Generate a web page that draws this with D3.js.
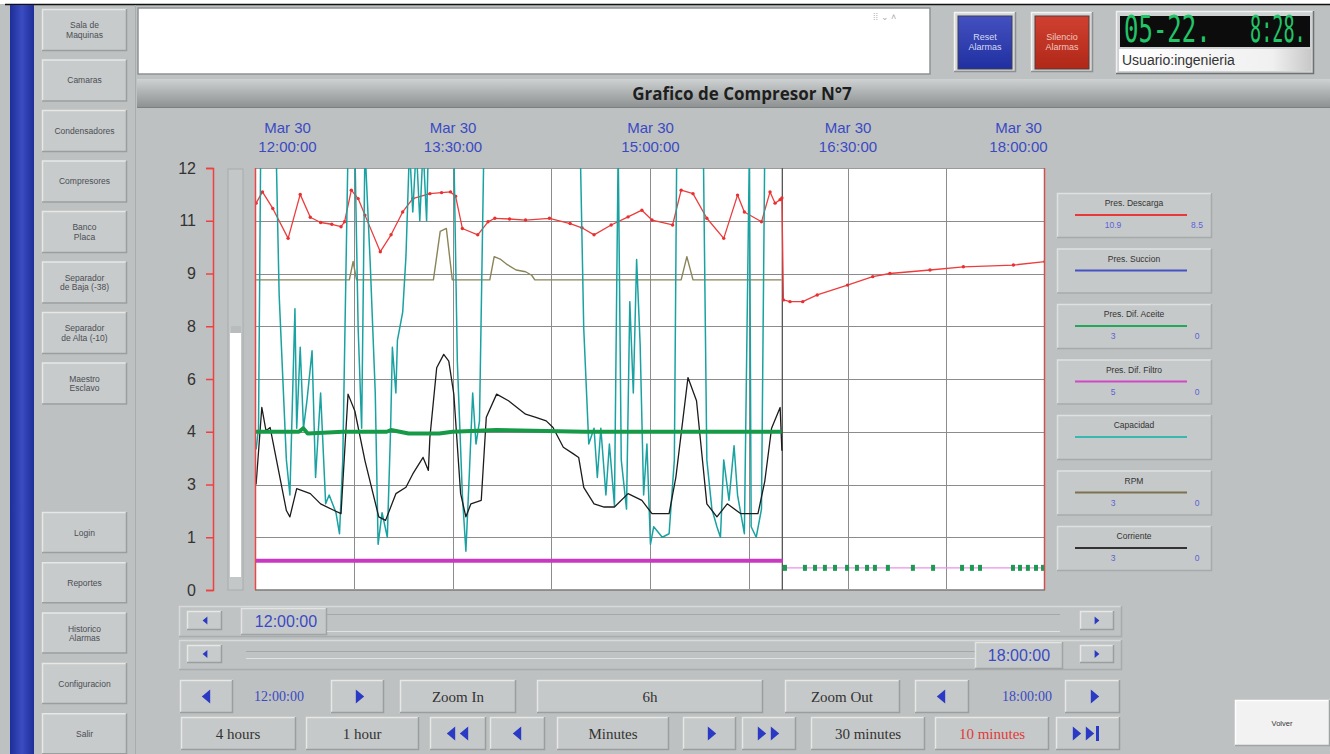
<!DOCTYPE html>
<html>
<head>
<meta charset="utf-8">
<script src="https://cdn.jsdelivr.net/npm/d3@7/dist/d3.min.js"></script>
<style>
  body { margin: 0; background: #bec1c1; overflow: hidden; }
  svg { display: block; font-family: "Liberation Sans", Arial, sans-serif; }
</style>
</head>
<body>
<svg id="chart" width="1330" height="754"></svg>
<script>
// --- data (minutes after 12:00, value on the 0-12 scale) ---
const timeTicks = ['12:00:00', '13:30:00', '15:00:00', '16:30:00', '18:00:00']
const yTickValues = [0, 1.5, 3, 4.5, 6, 7.5, 9, 10.5, 12]
const yTickLabels = ['0', '1', '3', '4', '6', '8', '9', '11', '12']

const descarga = [
  [0.5, 11.0], [3.4, 11.32], [8.1, 10.85], [15.1, 10.0], [20.6, 11.25], [25.2, 10.6], [29.9, 10.45],
  [35, 10.4], [39.2, 10.33], [40.8, 10.47], [43.9, 11.37], [47.0, 11.13], [50.1, 10.66], [57.1, 9.62],
  [62, 10.1], [67.3, 10.75], [71.9, 11.13], [79.7, 11.27], [85, 11.3], [89.1, 11.32], [91.4, 11.2],
  [94.5, 10.28], [101.5, 10.1], [106.2, 10.47], [109.3, 10.57], [116, 10.55], [123.3, 10.52],
  [134.2, 10.57], [143.6, 10.42], [149, 10.3], [154.5, 10.1], [162.3, 10.38], [170.0, 10.61],
  [176.3, 10.8], [180.9, 10.52], [190.3, 10.38], [194.2, 11.37], [199.6, 11.27], [205.9, 10.57],
  [213.6, 10.0], [219.9, 11.23], [223.0, 10.75], [230.8, 10.47], [234.7, 11.32], [237.0, 11.0],
  [239.3, 11.1], [240.1, 11.15], [240.8, 8.25], [243.8, 8.2], [249.6, 8.2], [256.2, 8.39],
  [270, 8.67], [281.5, 8.91], [289.3, 9.0], [307.6, 9.1], [322.8, 9.19], [345.6, 9.24], [360, 9.34]
]

const rpm = [
  [0.5, 8.82], [43.0, 8.82], [44.7, 9.34], [46.3, 8.82], [81.3, 8.82], [84.4, 10.2], [87.2, 10.28],
  [89.9, 8.82], [107.0, 8.82], [109.0, 9.48], [112, 9.4], [115, 9.25], [119, 9.1], [123.3, 9.05],
  [126.1, 8.95], [127.5, 8.82], [194.2, 8.82], [196.8, 9.48], [199.6, 8.82], [240, 8.82]
]

const corriente = [
  [0.5, 3.0], [3.1, 5.19], [5.0, 4.53], [6.9, 4.62], [14.3, 2.26], [15.9, 2.08], [19.0, 2.88],
  [25.2, 2.74], [29.9, 2.45], [36.1, 2.26], [39.2, 2.17], [42.4, 5.57], [45.5, 5.09], [50.1, 3.68],
  [56.4, 2.08], [59.5, 1.98], [64.2, 2.74], [68.8, 2.92], [71.9, 3.3], [76.6, 3.77], [79.0, 3.4],
  [79.7, 4.34], [82.8, 6.32], [86.0, 6.7], [88.3, 6.51], [90.6, 5.57], [93.7, 2.74], [96.1, 2.08],
  [98.4, 2.45], [103.1, 2.55], [105.4, 4.91], [110.1, 5.57], [115.5, 5.38], [123.3, 5.0],
  [128.0, 4.91], [132.7, 4.81], [135.8, 4.62], [140.5, 4.06], [145.1, 3.87], [147.5, 3.77],
  [149.8, 2.92], [154.5, 2.45], [159.1, 2.36], [163.8, 2.36], [170.0, 2.74], [176.3, 2.55],
  [180.9, 2.17], [188.7, 2.17], [191.8, 3.21], [197.3, 6.04], [201.2, 5.38], [205.9, 2.45],
  [210.5, 2.08], [215.2, 2.45], [221.4, 2.17], [229.2, 2.17], [232.3, 3.09], [235.4, 4.6],
  [239.3, 5.19], [240.1, 3.96]
]

const aceite = [
  [0, 4.5], [20, 4.5], [22, 4.6], [24, 4.45], [40, 4.5], [60, 4.5], [62, 4.55], [70, 4.45],
  [84, 4.45], [90, 4.5], [110, 4.55], [150, 4.5], [200, 4.5], [240, 4.5]
]
const aceiteMarks = [241.5, 250.6, 255.2, 259.7, 264.3, 269.8, 274.3, 278.9, 282.5, 288.4, 299.8,
  309.0, 322.2, 326.7, 330.4, 345.4, 348.6, 352.2, 355.9, 359.1]

const filtro = [[0, 0.83], [240.5, 0.83]]
const filtroTail = [[240.5, 0.63], [360, 0.63]]

const capacidad = [
  [0.5, 4.0], [1.6, 4.6], [2.6, 12.6], [9.6, 12.6], [11.0, 8.4], [14.3, 3.7], [15.9, 2.7], [18.2, 8.0],
  [19.0, 4.6], [20.6, 6.9], [22.1, 4.6], [23.7, 5.4], [26.0, 6.8], [27.6, 3.2], [29.9, 5.6],
  [32.2, 2.45], [33.8, 2.7], [36.9, 2.2], [38.5, 1.6], [40.0, 3.7], [42.4, 12.6], [45.5, 12.6],
  [47.0, 7.45], [48.6, 4.6], [50.1, 12.6], [52.5, 9.3], [54.8, 5.6], [56.1, 1.3], [57.9, 2.2],
  [60.3, 1.5], [61.8, 4.6], [62.6, 6.9], [64.2, 5.6], [64.9, 7.1], [67.3, 7.9], [68.8, 9.5],
  [70.4, 12.6], [71.9, 10.75], [73.5, 12.6], [75.1, 10.5], [76.6, 12.6], [78.2, 10.5], [79.0, 12.6],
  [90.6, 12.6], [92.2, 6.5], [94.5, 2.7], [96.1, 1.1], [97.6, 3.2], [99.2, 5.6], [100.7, 4.15],
  [102.3, 4.8], [104.3, 12.6], [148.2, 12.6], [149.8, 7.45], [152.1, 4.15], [154.5, 4.6],
  [156.0, 3.2], [157.6, 4.6], [159.9, 2.7], [161.5, 4.15], [163.8, 2.4], [165.5, 12.6],
  [166.9, 3.7], [169.3, 2.3], [170.8, 8.2], [172.4, 5.6], [173.9, 9.4], [175.5, 7.0], [177.1, 2.7],
  [178.6, 4.15], [180.2, 1.3], [181.7, 1.8], [185.6, 1.5], [188.7, 1.6], [191.1, 3.7], [192.2, 12.6],
  [204.3, 12.6], [205.9, 3.7], [208.2, 2.3], [210.5, 1.8], [212.1, 1.5], [213.6, 3.7], [216.0, 2.55],
  [218.3, 4.1], [219.9, 2.7], [223.0, 1.6], [225.3, 12.6], [226.1, 1.8], [228.4, 1.5], [230.8, 2.3],
  [232.3, 12.6], [234.0, 12.6]
]

const legendNames = ['Pres. Descarga', 'Pres. Succion', 'Pres. Dif. Aceite', 'Pres. Dif. Filtro',
  'Capacidad', 'RPM', 'Corriente']
const legendMax = ['10.9', '', '3', '5', '', '3', '3']
const legendMin = ['8.5', '', '0', '0', '', '0', '0']
const legendColors = ['#e8383a', '#4452c4', '#22a858', '#d048c8', '#38b8b0', '#7a7250', '#333333']

const menuTop = ['Sala de\nMaquinas', 'Camaras', 'Condensadores', 'Compresores', 'Banco\nPlaca',
  'Separador\nde Baja (-38)', 'Separador\nde Alta (-10)', 'Maestro\nEsclavo']
const menuBottom = ['Login', 'Reportes', 'Historico\nAlarmas', 'Configuracion', 'Salir']

// --- setup ---
const svg = d3.select('#chart')
const base = d3.timeParse('%b %d %Y %H:%M:%S')('Mar 30 2015 12:00:00')
const toDate = m => new Date(+base + m * 60000)
const tickDates = timeTicks.map(t => d3.timeParse('%b %d %Y %H:%M:%S')('Mar 30 2015 ' + t))

const plot = { left: 255, right: 1045, top: 168, bottom: 590 }
const x = d3.scaleTime().domain([tickDates[0], tickDates[tickDates.length - 1]]).range([plot.left, plot.right])
const y = d3.scaleLinear().domain([0, 12]).range([plot.bottom, plot.top])

const grad = svg.append('defs')
function linGrad(id, stops, vertical) {
  const g = grad.append('linearGradient').attr('id', id)
    .attr('x1', 0).attr('y1', 0).attr('x2', vertical ? 0 : 1).attr('y2', vertical ? 1 : 0)
  stops.forEach(s => g.append('stop').attr('offset', s[0]).attr('stop-color', s[1]))
}
linGrad('sideBlue', [[0, '#1e2e98'], [0.5, '#3a4cc0'], [1, '#1e2e98']], false)
linGrad('titleBar', [[0, '#cfd2d2'], [0.45, '#b0b4b4'], [1, '#8e9292']], true)
linGrad('blueBtn', [[0, '#4450c0'], [1, '#2030a0']], true)
linGrad('redBtn', [[0, '#d04030'], [1, '#b02818']], true)
linGrad('userField', [[0, '#ffffff'], [0.8, '#f0f0f0'], [1, '#c8c8c8']], false)
grad.append('clipPath').attr('id', 'plotClip').append('rect')
  .attr('x', plot.left).attr('y', plot.top).attr('width', plot.right - plot.left).attr('height', plot.bottom - plot.top)

function bevel(g, bx, by, w, h, fill, light, dark) {
  g.append('rect').attr('x', bx).attr('y', by).attr('width', w).attr('height', h).attr('fill', fill)
  g.append('path').attr('d', `M${bx + 0.5},${by + h}V${by + 0.5}H${bx + w}`)
    .attr('stroke', light || '#e6e8e8').attr('stroke-width', 1.5).attr('fill', 'none')
  g.append('path').attr('d', `M${bx + w - 0.5},${by}V${by + h - 0.5}H${bx}`)
    .attr('stroke', dark || '#9a9e9e').attr('stroke-width', 1.5).attr('fill', 'none')
}

function label(g, cx, cy, text, size, color, family) {
  const lines = text.split('\n')
  const t = g.append('text').attr('x', cx).attr('y', cy).attr('text-anchor', 'middle')
    .attr('font-size', size).attr('fill', color).attr('font-family', family || null)
  lines.forEach((l, i) => t.append('tspan').attr('x', cx)
    .attr('dy', i === 0 ? (0.35 - (lines.length - 1) * 0.55) + 'em' : '1.1em').text(l))
  return t
}

function tri(g, cx, cy, s, dir, color) {
  const d = dir > 0
    ? `M${cx - s * 0.6},${cy - s}L${cx + s * 0.6},${cy}L${cx - s * 0.6},${cy + s}Z`
    : `M${cx + s * 0.6},${cy - s}L${cx - s * 0.6},${cy}L${cx + s * 0.6},${cy + s}Z`
  g.append('path').attr('d', d).attr('fill', color || '#2a3ac4')
}

// --- page frame ---
svg.append('rect').attr('width', 1330).attr('height', 754).attr('fill', '#bec1c1')
svg.append('rect').attr('width', 1330).attr('height', 4).attr('fill', '#ffffff')
svg.append('line').attr('x1', 5).attr('x2', 1330).attr('y1', 4.5).attr('y2', 4.5).attr('stroke', '#111').attr('stroke-width', 1.5)
svg.append('rect').attr('x', 10).attr('y', 5).attr('width', 24).attr('height', 749).attr('fill', 'url(#sideBlue)')

// --- side menu ---
const side = svg.append('g')
menuTop.forEach((m, i) => {
  const by = 9 + i * 50.5
  bevel(side, 42, by, 85, 42, '#c8cbcb')
  label(side, 84.5, by + 21, m, 8.5, '#4a4e55')
})
menuBottom.forEach((m, i) => {
  const by = 512 + i * 50.3
  bevel(side, 42, by, 85, 41, '#c8cbcb')
  label(side, 84.5, by + 21, m, 8.5, '#4a4e55')
})
svg.append('line').attr('x1', 135.5).attr('x2', 135.5).attr('y1', 5).attr('y2', 754).attr('stroke', '#a9adad')

// --- header ---
const head = svg.append('g')
head.append('rect').attr('x', 138).attr('y', 8).attr('width', 792).attr('height', 66).attr('fill', '#fff')
  .attr('stroke', '#8e9292').attr('stroke-width', 1.5)
head.append('text').attr('x', 873).attr('y', 20).attr('font-size', 9).attr('fill', '#a8acac').text('⁞⁞ ⌄ ˄')
bevel(head, 954, 12, 62, 60, '#d4d6d6', '#f4f4f4', '#8c9090')
head.append('rect').attr('x', 958).attr('y', 16).attr('width', 54).attr('height', 53).attr('fill', 'url(#blueBtn)')
  .attr('stroke', '#3c3f55')
label(head, 985, 42, 'Reset\nAlarmas', 9, '#d8dcf4')
bevel(head, 1031, 12, 62, 60, '#d4d6d6', '#f4f4f4', '#8c9090')
head.append('rect').attr('x', 1035).attr('y', 16).attr('width', 54).attr('height', 53).attr('fill', 'url(#redBtn)')
  .attr('stroke', '#553a3a')
label(head, 1062, 42, 'Silencio\nAlarmas', 9, '#f0c8c0')
bevel(head, 1116, 11, 198, 63, '#cfd2d2', '#f0f0f0', '#6e7272')
head.append('rect').attr('x', 1120).attr('y', 16).attr('width', 190).attr('height', 31).attr('fill', '#0c0c0c')
// LED digits: narrow mono text stretched vertically
head.append('text').attr('transform', 'translate(1124,42) scale(1,1.55)')
  .attr('font-family', '"DejaVu Sans Mono", monospace').attr('font-size', 24).attr('fill', '#22c468').text('05-22.')
head.append('text').attr('transform', 'translate(1250,42) scale(1,2)')
  .attr('font-family', '"DejaVu Sans Mono", monospace').attr('font-size', 18.5).attr('fill', '#22c468').text('8:28.')
head.append('rect').attr('x', 1119).attr('y', 49).attr('width', 192).attr('height', 22).attr('fill', 'url(#userField)')
head.append('text').attr('x', 1122).attr('y', 65).attr('font-size', 14).attr('fill', '#333').text('Usuario:ingenieria')

// --- title bar ---
svg.append('rect').attr('x', 137).attr('y', 79).attr('width', 1193).attr('height', 28).attr('fill', 'url(#titleBar)')
svg.append('line').attr('x1', 137).attr('x2', 1330).attr('y1', 107.5).attr('y2', 107.5).attr('stroke', '#7c8080')
svg.append('text').attr('x', 742).attr('y', 100).attr('text-anchor', 'middle')
  .attr('font-family', '"Open Sans", "DejaVu Sans", sans-serif').attr('font-weight', 'bold')
  .attr('font-size', 17).attr('fill', '#1e1e1e').text('Grafico de Compresor N°7')

// --- plot ---
const chart = svg.append('g')
chart.append('rect').attr('x', plot.left).attr('y', plot.top).attr('width', plot.right - plot.left)
  .attr('height', plot.bottom - plot.top).attr('fill', '#fff')

// grid
chart.append('g').selectAll('line').data(yTickValues).join('line')
  .attr('x1', plot.left).attr('x2', plot.right).attr('y1', d => Math.round(y(d)) + 0.5).attr('y2', d => Math.round(y(d)) + 0.5)
  .attr('stroke', '#8c8c8c').attr('stroke-width', 1)
const gridDates = d3.range(45, 360, 45).map(toDate)
chart.append('g').selectAll('line').data(gridDates).join('line')
  .attr('x1', d => Math.round(x(d)) + 0.5).attr('x2', d => Math.round(x(d)) + 0.5)
  .attr('y1', plot.top).attr('y2', plot.bottom).attr('stroke', '#8c8c8c')

chart.append('line').attr('x1', plot.left).attr('x2', plot.right).attr('y1', plot.top + 0.5).attr('y2', plot.top + 0.5).attr('stroke', '#9a9a9a')
chart.append('line').attr('x1', plot.left).attr('x2', plot.right).attr('y1', plot.bottom - 0.5).attr('y2', plot.bottom - 0.5).attr('stroke', '#9a9a9a')

// cursor at end of recorded data
chart.append('line').attr('x1', x(toDate(240.3))).attr('x2', x(toDate(240.3)))
  .attr('y1', plot.top).attr('y2', plot.bottom).attr('stroke', '#555').attr('stroke-width', 1.3)

const line = d3.line().x(d => x(toDate(d[0]))).y(d => y(d[1]))
const series = chart.append('g').attr('clip-path', 'url(#plotClip)')
function drawSeries(data, color, width) {
  series.append('path').datum(data).attr('d', line).attr('fill', 'none')
    .attr('stroke', color).attr('stroke-width', width).attr('stroke-linejoin', 'round')
}
drawSeries(rpm, '#8a8458', 1.4)
drawSeries(descarga, '#ee3c3c', 1.3)
series.append('g').selectAll('circle').data(descarga).join('circle')
  .attr('cx', d => x(toDate(d[0]))).attr('cy', d => y(d[1])).attr('r', 1.7).attr('fill', '#e83030')
drawSeries(capacidad, '#1aa2a2', 1.5)
drawSeries(corriente, '#1c1c1c', 1.3)
drawSeries(aceite, '#169a48', 4)
drawSeries(filtro, '#c838c0', 4)
drawSeries(filtroTail, '#ec90e8', 1.2)
series.append('g').selectAll('rect').data(aceiteMarks).join('rect')
  .attr('x', d => x(toDate(d)) - 2).attr('y', y(0.63) - 3).attr('width', 4).attr('height', 6).attr('fill', '#1a9a52')

chart.append('line').attr('x1', plot.left + 0.5).attr('x2', plot.left + 0.5).attr('y1', plot.top).attr('y2', plot.bottom).attr('stroke', '#e84848').attr('stroke-width', 1.5)
chart.append('line').attr('x1', plot.right - 0.5).attr('x2', plot.right - 0.5).attr('y1', plot.top).attr('y2', plot.bottom).attr('stroke', '#d05050').attr('stroke-width', 1.5)

// y axis
const yAxis = svg.append('g').attr('transform', 'translate(213,0)')
  .call(d3.axisLeft(y).tickValues(yTickValues).tickFormat((d, i) => yTickLabels[i]).tickSize(7).tickPadding(10))
yAxis.select('.domain').attr('stroke', '#ee4040').attr('stroke-width', 1.5)
yAxis.selectAll('.tick line').attr('stroke', '#ee4040').attr('stroke-width', 1.5)
yAxis.selectAll('.tick text').attr('fill', '#333').attr('font-size', 16).attr('font-family', '"Liberation Sans", Arial, sans-serif')

// time axis
const tAxis = svg.append('g').attr('transform', 'translate(0,152)')
  .call(d3.axisTop(x).tickValues(tickDates).tickSize(0).tickPadding(0))
tAxis.select('.domain').remove()
const fmtDay = d3.timeFormat('%b %d'), fmtTime = d3.timeFormat('%H:%M:%S')
tAxis.selectAll('.tick text').each(function (d, i) {
  const shift = i === 0 ? 32 : (i === tickDates.length - 1 ? -27 : 0)
  const t = d3.select(this).text(null).attr('dy', null).attr('fill', '#3a4ac4').attr('font-size', 15)
    .attr('font-family', '"Liberation Sans", Arial, sans-serif')
  t.append('tspan').attr('x', shift).attr('y', -19).text(fmtDay(d))
  t.append('tspan').attr('x', shift).attr('y', 0).text(fmtTime(d))
})

// vertical slider
svg.append('rect').attr('x', 228).attr('y', 169).attr('width', 15).attr('height', 421).attr('fill', '#c4c7c7')
  .attr('stroke', '#a8acac')
svg.append('rect').attr('x', 231).attr('y', 326).attr('width', 10).attr('height', 7).attr('fill', '#b8bcbc')
svg.append('rect').attr('x', 230).attr('y', 333).attr('width', 11).attr('height', 244).attr('fill', '#ffffff')

// --- legend ---
const leg = svg.append('g')
legendNames.forEach((n, i) => {
  const by = 193 + i * 55.5
  bevel(leg, 1057, by, 155, 45, '#c6c9c9', '#dfe1e1', '#a6aaaa')
  leg.append('text').attr('x', 1134).attr('y', by + 13).attr('text-anchor', 'middle').attr('font-size', 8.5).attr('fill', '#333').text(n)
  leg.append('line').attr('x1', 1075).attr('x2', 1187).attr('y1', by + 22).attr('y2', by + 22)
    .attr('stroke', legendColors[i]).attr('stroke-width', 2)
  leg.append('text').attr('x', 1113).attr('y', by + 35).attr('text-anchor', 'middle').attr('font-size', 8.5).attr('fill', '#5a62d6').text(legendMax[i])
  leg.append('text').attr('x', 1197).attr('y', by + 35).attr('text-anchor', 'middle').attr('font-size', 8.5).attr('fill', '#5a62d6').text(legendMin[i])
})

// --- bottom controls ---
const ctl = svg.append('g')
const serif = '"Liberation Serif", "Times New Roman", serif'
// scroll rows
bevel(ctl, 179, 606, 943, 31, '#c0c3c3', '#d8dada', '#a8acac')
bevel(ctl, 179, 640, 943, 30, '#c0c3c3', '#d8dada', '#a8acac')
bevel(ctl, 187, 611, 35, 19, '#c8cbcb'); tri(ctl, 205, 620.5, 4, -1)
bevel(ctl, 1080, 611, 34, 19, '#c8cbcb'); tri(ctl, 1097, 620.5, 4, 1)
bevel(ctl, 187, 645, 35, 18, '#c8cbcb'); tri(ctl, 205, 654, 4, -1)
bevel(ctl, 1080, 645, 34, 18, '#c8cbcb'); tri(ctl, 1097, 654, 4, 1)
bevel(ctl, 241, 608, 86, 27, '#c6c9c9', '#e2e4e4', '#a0a4a4')
ctl.append('text').attr('x', 286).attr('y', 627).attr('text-anchor', 'middle').attr('font-size', 16).attr('fill', '#3a4ac4').text(timeTicks[0])
ctl.append('line').attr('x1', 327).attr('x2', 1060).attr('y1', 614.5).attr('y2', 614.5).attr('stroke', '#a4a8a8')
ctl.append('line').attr('x1', 327).attr('x2', 1060).attr('y1', 631.5).attr('y2', 631.5).attr('stroke', '#e0e2e2')
ctl.append('line').attr('x1', 246).attr('x2', 975).attr('y1', 651.5).attr('y2', 651.5).attr('stroke', '#a4a8a8')
ctl.append('line').attr('x1', 246).attr('x2', 975).attr('y1', 658.5).attr('y2', 658.5).attr('stroke', '#e0e2e2')
bevel(ctl, 975, 642, 88, 27, '#c6c9c9', '#e2e4e4', '#a0a4a4')
ctl.append('text').attr('x', 1019).attr('y', 661).attr('text-anchor', 'middle').attr('font-size', 16).attr('fill', '#3a4ac4').text(timeTicks[4])

// row 3
const row3 = 680, h3 = 33
bevel(ctl, 180, row3, 53, h3, '#c6c9c9'); tri(ctl, 206, row3 + 16.5, 7, -1)
ctl.append('text').attr('x', 279).attr('y', row3 + 21).attr('text-anchor', 'middle').attr('font-family', serif)
  .attr('font-size', 14).attr('fill', '#3a4ac4').text(timeTicks[0])
bevel(ctl, 331, row3, 53, h3, '#c6c9c9'); tri(ctl, 360, row3 + 16.5, 7, 1)
bevel(ctl, 400, row3, 116, h3, '#c6c9c9'); label(ctl, 458, row3 + 16.5, 'Zoom In', 15, '#333', serif)
bevel(ctl, 537, row3, 226, h3, '#c6c9c9'); label(ctl, 650, row3 + 16.5, '6h', 15, '#333', serif)
bevel(ctl, 785, row3, 115, h3, '#c6c9c9'); label(ctl, 842, row3 + 16.5, 'Zoom Out', 15, '#333', serif)
bevel(ctl, 915, row3, 54, h3, '#c6c9c9'); tri(ctl, 941, row3 + 16.5, 7, -1)
ctl.append('text').attr('x', 1027).attr('y', row3 + 21).attr('text-anchor', 'middle').attr('font-family', serif)
  .attr('font-size', 14).attr('fill', '#3a4ac4').text(timeTicks[4])
bevel(ctl, 1065, row3, 55, h3, '#c6c9c9'); tri(ctl, 1095, row3 + 16.5, 7, 1)

// row 4
const row4 = 717, h4 = 33
bevel(ctl, 181, row4, 115, h4, '#c6c9c9'); label(ctl, 238, row4 + 16.5, '4 hours', 15, '#333', serif)
bevel(ctl, 306, row4, 113, h4, '#c6c9c9'); label(ctl, 362, row4 + 16.5, '1 hour', 15, '#333', serif)
bevel(ctl, 430, row4, 56, h4, '#c6c9c9'); tri(ctl, 451, row4 + 16.5, 7, -1); tri(ctl, 464, row4 + 16.5, 7, -1)
bevel(ctl, 490, row4, 55, h4, '#c6c9c9'); tri(ctl, 517, row4 + 16.5, 7, -1)
bevel(ctl, 557, row4, 112, h4, '#c6c9c9'); label(ctl, 613, row4 + 16.5, 'Minutes', 15, '#333', serif)
bevel(ctl, 683, row4, 53, h4, '#c6c9c9'); tri(ctl, 712, row4 + 16.5, 7, 1)
bevel(ctl, 742, row4, 54, h4, '#c6c9c9'); tri(ctl, 762, row4 + 16.5, 7, 1); tri(ctl, 775, row4 + 16.5, 7, 1)
bevel(ctl, 811, row4, 114, h4, '#c6c9c9'); label(ctl, 868, row4 + 16.5, '30 minutes', 15, '#333', serif)
bevel(ctl, 935, row4, 114, h4, '#c6c9c9'); label(ctl, 992, row4 + 16.5, '10 minutes', 15, '#e03a3a', serif)
bevel(ctl, 1056, row4, 64, h4, '#c6c9c9'); tri(ctl, 1077, row4 + 16.5, 7, 1); tri(ctl, 1090, row4 + 16.5, 7, 1)
ctl.append('rect').attr('x', 1096).attr('y', row4 + 9).attr('width', 3).attr('height', 15).attr('fill', '#2a3ac4')

// Volver
bevel(ctl, 1235, 700, 95, 46, '#f2f2f2', '#ffffff', '#a0a4a4')
label(ctl, 1282, 723, 'Volver', 7.5, '#333')
</script>
</body>
</html>
